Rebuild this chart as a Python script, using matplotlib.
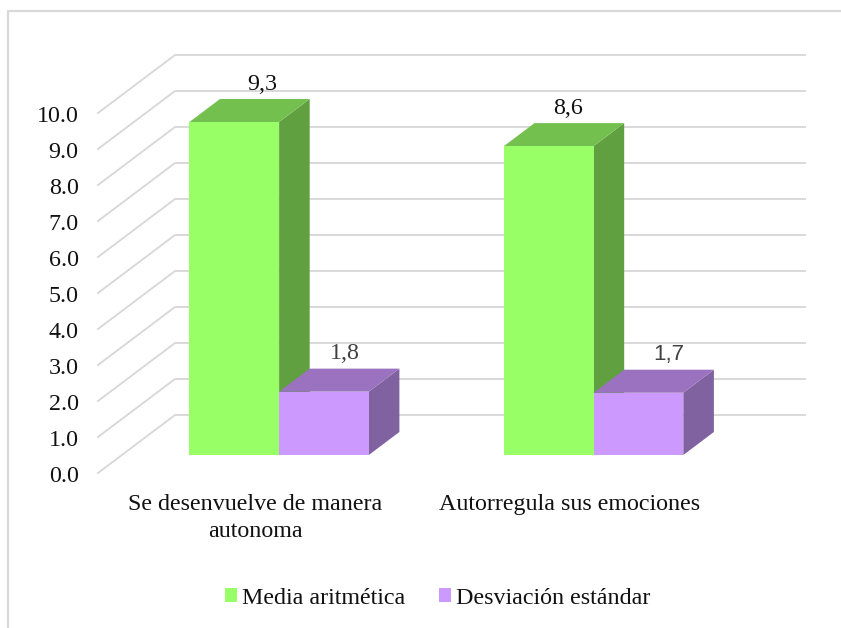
import matplotlib
matplotlib.use("Agg")
import matplotlib.pyplot as plt
from matplotlib.patches import Polygon, Patch

categories = ["Se desenvuelve de manera\nautonoma", "Autorregula sus emociones"]
series_names = ["Media aritmética", "Desviación estándar"]
media = [9.25, 8.58]
desviacion = [1.76, 1.73]
media_labels = ["9,3", "8,6"]
desviacion_labels = ["1,8", "1,7"]
y_ticks = [0, 1, 2, 3, 4, 5, 6, 7, 8, 9, 10]

W, H = 841, 628
PX_PER_CAT, PX_PER_VAL = 314.5, 36.0
X0_PX, Y0_PX = 98.0, 473.0
DX, DY = 77 / PX_PER_CAT, 58 / PX_PER_VAL   # oblique offset of the full depth
D0, D1 = 0.31, 0.707                        # bar front / back depth
BAR_W = 89.7 / PX_PER_CAT
SERIF = ["Liberation Serif", "DejaVu Serif"]
FS = 17.3

plt.rcParams["font.family"] = SERIF
fig = plt.figure(figsize=(W / 100, H / 100), dpi=100)
ax = fig.add_axes([0, 0, 1, 1])
ax.set_xlim(-X0_PX / PX_PER_CAT, (W - X0_PX) / PX_PER_CAT)
ax.set_ylim((Y0_PX - H) / PX_PER_VAL, Y0_PX / PX_PER_VAL)
ax.axis("off")

GRID = "#D9D9D9"
ax.plot([8 / W, 8 / W, 1], [0, 1 - 11 / H, 1 - 11 / H], transform=ax.transAxes, color=GRID, lw=1.6, zorder=1)

x_end = (805 - X0_PX) / PX_PER_CAT
for v in y_ticks:
    ax.plot([0, DX, x_end], [v, v + DY, v + DY], color=GRID, lw=1.4, zorder=1, solid_joinstyle="round")
    ax.text(-19.5 / PX_PER_CAT, v - 0.09, f"{v:.1f}", ha="right", va="center", fontsize=FS, color="#111111")


def bar3d(x_left, value, front, top, side, zorder):
    x_r = x_left + BAR_W
    p = lambda x, v, d: (x + d * DX, v + d * DY)
    ax.add_patch(Polygon([p(x_r, 0, D0), p(x_r, 0, D1), p(x_r, value, D1), p(x_r, value, D0)],
                         fc=side, ec="none", zorder=zorder))
    ax.add_patch(Polygon([p(x_left, value, D0), p(x_r, value, D0), p(x_r, value, D1), p(x_left, value, D1)],
                         fc=top, ec="none", zorder=zorder))
    ax.add_patch(Polygon([p(x_left, 0, D0), p(x_r, 0, D0), p(x_r, value, D0), p(x_left, value, D0)],
                         fc=front, ec="none", zorder=zorder + 0.1))
    return p(x_left + BAR_W / 2, value, D1)


GREEN = ("#99FF66", "#74C04E", "#60A040")
PURPLE = ("#CC99FF", "#9A72BF", "#8062A0")
media_nudge = [-0.008, -0.036]
desv_nudge = [-0.03, 0.0]
desv_fonts = [(SERIF, FS, "#404040"), (["Liberation Sans", "DejaVu Sans"], 16, "#404040")]
for i in range(len(categories)):
    c = i + 0.5
    xm, ym = bar3d(c - BAR_W, media[i], *GREEN, 2 + i)
    ax.text(xm + media_nudge[i], ym + 0.12, media_labels[i], ha="center", va="bottom", fontsize=FS,
            color="#111111", zorder=6)
    xd, yd = bar3d(c, desviacion[i], *PURPLE, 2.5 + i)
    fam, size, col = desv_fonts[i]
    ax.text(xd + desv_nudge[i], yd + 0.14, desviacion_labels[i], ha="center", va="bottom", fontsize=size,
            family=fam, color=col, zorder=6)
    ax.text(c, -0.58, categories[i], ha="center", va="top", fontsize=FS, color="#111111", linespacing=1.4)

handles = [Patch(fc=GREEN[0], ec="none"), Patch(fc=PURPLE[0], ec="none")]
fig.legend(handles, series_names, loc="center", bbox_to_anchor=(437.5 / W, 1 - 598 / H), ncol=2, frameon=False,
           fontsize=FS, handlelength=0.5, handleheight=0.5, handletextpad=0.2, columnspacing=1.42,
           labelcolor="#111111", borderpad=0, borderaxespad=0)

fig.savefig("out.png", dpi=100)
